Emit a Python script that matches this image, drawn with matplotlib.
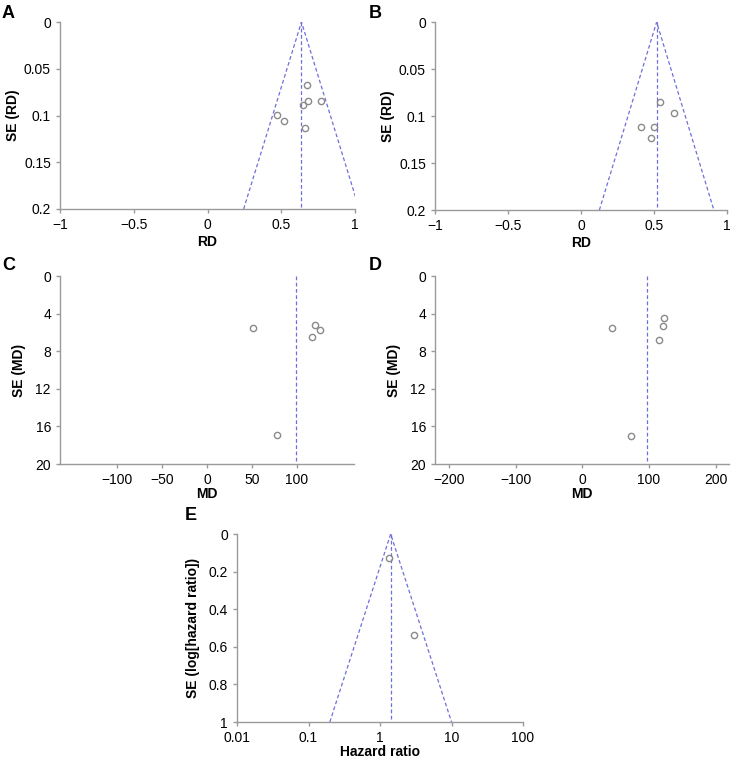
import numpy as np
import matplotlib
matplotlib.use("Agg")
import matplotlib.pyplot as plt

plt.rcParams['font.family'] = ['Liberation Sans', 'DejaVu Sans']

# panel A: risk difference
a_rd = [0.673, 0.678, 0.768, 0.646, 0.468, 0.518, 0.662]
a_se = [0.067, 0.085, 0.085, 0.089, 0.099, 0.106, 0.113]
a_pooled = 0.637

# panel B: risk difference
b_rd = [0.538, 0.640, 0.414, 0.498, 0.482]
b_se = [0.085, 0.097, 0.112, 0.112, 0.123]
b_pooled = 0.518

# panel C: mean difference
c_md = [51.3, 121.0, 126.6, 117.6, 77.9]
c_se = [5.56, 5.2, 5.77, 6.44, 16.96]
c_pooled = 99.5

# panel D: mean difference
d_md = [44.1, 121.8, 121.3, 114.3, 72.7]
d_se = [5.56, 4.46, 5.35, 6.8, 17.0]
d_pooled = 97.7

# panel E: hazard ratio
e_hr = [1.35, 3.02]
e_se = [0.126, 0.539]
e_pooled = 1.41

LINE_C = '#6f6fd8'
SPINE_C = '#9a9a9a'

W, H = 732, 760
fig = plt.figure(figsize=(W / 100, H / 100), dpi=100)


def make_ax(left, right, top, bottom):
    return fig.add_axes([left / W, 1 - bottom / H, (right - left) / W, (bottom - top) / H])


def style(ax, xlabel, ylabel, xpad=2, ypad=3):
    for s in ['top', 'right']:
        ax.spines[s].set_visible(False)
    for s in ['left', 'bottom']:
        ax.spines[s].set_color(SPINE_C)
        ax.spines[s].set_linewidth(1.0)
    ax.tick_params(colors=SPINE_C, labelcolor='black', labelsize=10, length=3, width=1)
    ax.set_xlabel(xlabel, fontsize=10, fontweight='bold', labelpad=xpad)
    ax.set_ylabel(ylabel, fontsize=10, fontweight='bold', labelpad=ypad)
    ax.invert_yaxis()


def points(ax, x, y):
    ax.plot(x, y, 'o', ms=4.5, mfc='none', mec='#8a8a8a', mew=1.0, ls='none', zorder=3)


def funnel(ax, pooled, se_max, log=False):
    if log:
        c = np.log(pooled)
        xs = [np.exp(c - 1.96 * se_max), pooled, np.exp(c + 1.96 * se_max)]
    else:
        xs = [pooled - 1.96 * se_max, pooled, pooled + 1.96 * se_max]
    ax.plot(xs, [se_max, 0, se_max], color=LINE_C, lw=0.9, dashes=(3, 2))
    ax.plot([pooled, pooled], [0, se_max], color=LINE_C, lw=0.9, dashes=(3, 2))


rd_ticks = [-1, -0.5, 0, 0.5, 1]
rd_labels = ['\u22121', '\u22120.5', '0', '0.5', '1']
rd_yticks = [0, 0.05, 0.1, 0.15, 0.2]
rd_ylabels = ['0', '0.05', '0.1', '0.15', '0.2']

# A
ax = make_ax(60, 355, 22, 209)
funnel(ax, a_pooled, 0.2)
points(ax, a_rd, a_se)
ax.set_xlim(-1, 1)
ax.set_ylim(0, 0.2)
ax.set_xticks(rd_ticks)
ax.set_xticklabels(rd_labels)
ax.set_yticks(rd_yticks)
ax.set_yticklabels(rd_ylabels)
style(ax, 'RD', 'SE (RD)')

# B
ax = make_ax(435, 727, 22, 210)
funnel(ax, b_pooled, 0.2)
points(ax, b_rd, b_se)
ax.set_xlim(-1, 1)
ax.set_ylim(0, 0.2)
ax.set_xticks(rd_ticks)
ax.set_xticklabels(rd_labels)
ax.set_yticks(rd_yticks)
ax.set_yticklabels(rd_ylabels)
style(ax, 'RD', 'SE (RD)')

# C
ax = make_ax(60, 354, 276, 464)
ax.plot([c_pooled, c_pooled], [0, 20], color=LINE_C, lw=0.9, dashes=(3, 2))
points(ax, c_md, c_se)
ax.set_xlim(-164, 164)
ax.set_ylim(0, 20)
ax.set_xticks([-100, -50, 0, 50, 100])
ax.set_xticklabels(['\u2212100', '\u221250', '0', '50', '100'])
ax.set_yticks([0, 4, 8, 12, 16, 20])
style(ax, 'MD', 'SE (MD)', xpad=0, ypad=7)

# D
ax = make_ax(435, 729, 276, 464)
ax.plot([d_pooled, d_pooled], [0, 20], color=LINE_C, lw=0.9, dashes=(3, 2))
points(ax, d_md, d_se)
ax.set_xlim(-221, 220)
ax.set_ylim(0, 20)
ax.set_xticks([-200, -100, 0, 100, 200])
ax.set_xticklabels(['\u2212200', '\u2212100', '0', '100', '200'])
ax.set_yticks([0, 4, 8, 12, 16, 20])
style(ax, 'MD', 'SE (MD)', xpad=0, ypad=7)

# E
ax = make_ax(237, 523, 534, 722)
ax.set_xscale('log')
funnel(ax, e_pooled, 1.0, log=True)
points(ax, e_hr, e_se)
ax.set_xlim(0.01, 100)
ax.set_ylim(0, 1)
ax.set_xticks([0.01, 0.1, 1, 10, 100])
ax.set_xticklabels(['0.01', '0.1', '1', '10', '100'])
ax.xaxis.set_minor_locator(matplotlib.ticker.NullLocator())
ax.set_yticks([0, 0.2, 0.4, 0.6, 0.8, 1])
ax.set_yticklabels(['0', '0.2', '0.4', '0.6', '0.8', '1'])
style(ax, 'Hazard ratio', 'SE (log[hazard ratio])', xpad=0, ypad=6)

# panel letters
for letter, x, y in [('A', 2, 14), ('B', 369, 14), ('C', 2, 266), ('D', 369, 266), ('E', 185, 516)]:
    fig.text(x / W, 1 - y / H, letter, fontsize=13, fontweight='bold', va='center', ha='left')

fig.savefig('out.png', dpi=100)
